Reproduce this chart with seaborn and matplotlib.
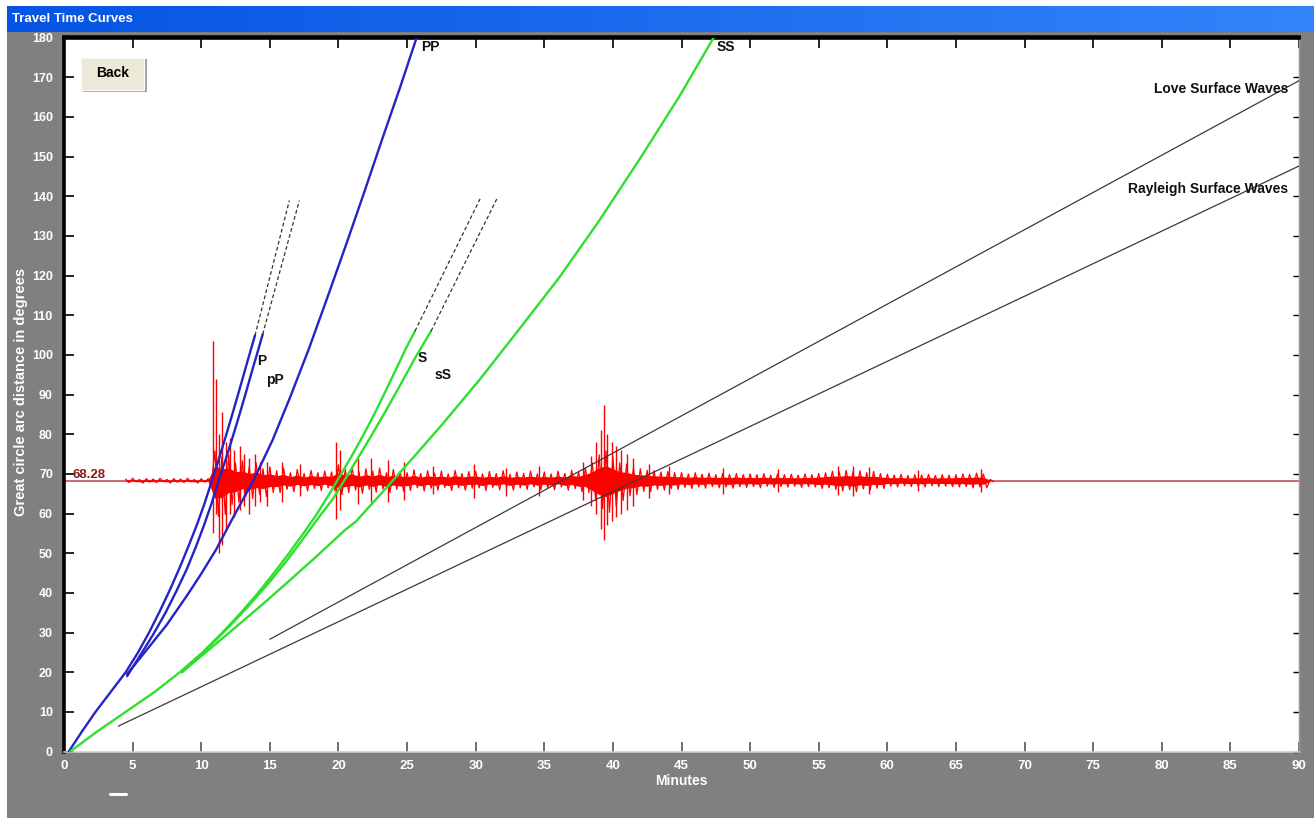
#!/usr/bin/env python3
"""
Travel time curves screen: P / S phase curves, surface waves and a seismogram
"""

import numpy as np
import matplotlib
matplotlib.use("Agg")
import matplotlib.pyplot as plt
import seaborn as sns
from matplotlib.patches import Rectangle
from matplotlib.lines import Line2D

sns.set_style("white")
plt.rcParams['font.family'] = ['Liberation Sans', 'DejaVu Sans']

# =============================================================================
# DATA (minutes, degrees)
# =============================================================================
p_t = [0.35, 1.3, 2.3, 3.4, 4.5, 5.4, 6.2, 7.0, 7.75, 8.45, 9.1, 9.7, 10.25, 10.75,
       11.25, 11.75, 12.25, 12.75, 13.25, 13.6, 13.92]
p_d = [0.0, 5.0, 10.0, 15.0, 20.0, 25.0, 30.0, 35.5, 41.0, 46.5, 52.0, 57.3, 62.6, 68.0,
       73.3, 79.0, 84.8, 90.8, 96.9, 101.1, 104.9]

pp_small_t = [4.6, 5.6, 6.5, 7.4, 8.2, 8.95, 9.6, 10.2, 10.75, 11.25, 11.75, 12.25,
              12.75, 13.25, 13.75, 14.15, 14.48]
pp_small_d = [19.0, 24.5, 29.5, 35.0, 40.5, 46.0, 51.5, 57.0, 62.5, 68.0, 73.3, 78.8,
              84.5, 90.4, 96.5, 101.2, 105.2]

PP_t = [4.6, 6.0, 7.5, 9.0, 10.0, 11.1, 12.4, 13.8, 15.2, 16.5, 17.8, 19.2, 20.6,
        21.9, 23.2, 24.5, 25.7]
PP_d = [19.5, 25.5, 32.0, 39.5, 44.8, 51.0, 59.5, 68.3, 78.5, 89.5, 101.1, 114.5, 128.2,
        141.2, 154.5, 167.5, 180.0]

s_t = [0.45, 2.4, 4.5, 6.6, 8.45, 10.1, 11.55, 12.9, 14.15, 15.3, 16.4, 17.45, 18.45,
       19.35, 20.2, 21.05, 21.85, 22.65, 23.4, 24.15, 24.9, 25.58]
s_d = [0.0, 5.0, 10.0, 15.0, 20.0, 25.0, 30.0, 35.0, 40.0, 45.0, 50.0, 55.0, 60.0,
       65.0, 70.0, 75.0, 80.0, 85.3, 90.6, 96.0, 101.5, 106.0]

ss_small_t = [8.6, 10.3, 11.9, 13.4, 14.8, 16.1, 17.3, 18.45, 19.6, 20.6, 21.6, 22.6,
              23.6, 24.6, 25.6, 26.75]
ss_small_d = [20.0, 25.5, 31.0, 36.5, 42.0, 47.5, 53.0, 58.5, 63.7, 69.3, 75.0, 80.8,
              86.8, 93.0, 99.3, 106.0]

SS_t = [8.6, 10.5, 12.5, 14.5, 16.5, 18.5, 20.5, 21.25, 23.5, 25.5, 27.5, 30.35,
        33.0, 36.05, 39.0, 42.0, 44.8, 47.35]
SS_d = [20.0, 25.5, 31.3, 37.2, 43.3, 49.5, 55.9, 57.9, 66.5, 74.3, 82.2, 94.0,
        105.7, 119.3, 133.8, 149.6, 164.9, 180.0]

# dashed continuations of P, pP, S, sS
p_ext_t, p_ext_d = [13.92, 16.42], [104.9, 138.9]
pps_ext_t, pps_ext_d = [14.48, 17.15], [105.2, 138.9]
s_ext_t, s_ext_d = [25.58, 30.32], [106.0, 139.3]
sss_ext_t, sss_ext_d = [26.75, 31.54], [106.0, 139.3]

# surface waves
love_t, love_d = [15.0, 90.0], [28.3, 169.1]
rayleigh_t, rayleigh_d = [3.96, 90.0], [6.4, 147.6]

# seismogram at 68.28 degrees: max / min excursion per half-minute bin
station_dist = 68.28
seis_start, seis_step = 4.5, 0.5
seis_up = [0.4, 0.6, 0.3, 0.5, 0.4, 0.6, 0.3, 0.5, 0.4, 0.6, 0.3, 0.5, 0.5,
           7.5, 6.0, 6.5, 4.5, 5.0, 3.5, 4.5, 3.0, 3.5,
           2.5, 3.2, 2.0, 2.8, 1.8, 2.6, 2.0, 2.4, 2.2,
           4.0, 2.8, 3.4, 2.2, 3.0, 2.4, 3.2, 2.0, 2.8, 2.3,
           2.0, 2.7, 1.8, 2.5, 1.9, 2.4, 1.7, 2.6, 1.8, 2.3,
           2.4, 1.7, 2.3, 1.8, 2.5, 1.6, 2.2, 1.8, 2.4, 1.7,
           2.2, 1.7, 2.4, 1.8, 2.6, 2.2, 3.2, 4.5, 6.5, 7.5,
           6.0, 4.5, 4.2, 3.2, 3.0, 2.6, 2.5, 2.2, 2.3, 2.0,
           2.0, 1.7, 2.0, 1.6, 1.9, 1.5, 1.8, 1.6, 1.8, 1.5,
           1.7, 1.5, 1.8, 1.4, 1.7, 1.5, 1.6, 1.4, 1.7, 1.5,
           1.8, 2.0, 2.4, 2.2, 2.6, 2.3, 2.5, 2.0, 2.3, 1.8,
           1.6, 1.4, 1.6, 1.3, 1.5, 1.4, 1.6, 1.3, 1.5, 1.4,
           1.5, 1.7, 1.6, 1.9, 1.7, 0.3]
seis_dn = [0.5, 0.3, 0.6, 0.4, 0.5, 0.3, 0.6, 0.4, 0.5, 0.3, 0.6, 0.4, 0.4,
           9.0, 8.5, 6.0, 5.5, 4.0, 4.5, 3.5, 4.0, 3.0,
           3.0, 2.2, 2.8, 1.9, 2.6, 2.0, 2.5, 1.8, 2.6,
           3.5, 3.0, 2.4, 3.2, 2.2, 2.9, 2.1, 3.0, 2.2, 2.7,
           2.5, 1.8, 2.6, 1.9, 2.4, 1.7, 2.5, 1.8, 2.4, 1.9,
           1.8, 2.5, 1.7, 2.3, 1.6, 2.4, 1.8, 2.2, 1.6, 2.3,
           1.8, 2.3, 1.6, 2.4, 2.0, 2.8, 3.0, 5.0, 7.0, 8.0,
           6.5, 5.0, 3.8, 3.5, 2.7, 2.8, 2.2, 2.4, 2.0, 2.2,
           1.7, 2.0, 1.6, 1.9, 1.5, 1.8, 1.6, 1.9, 1.5, 1.7,
           1.5, 1.8, 1.4, 1.7, 1.5, 1.6, 1.4, 1.7, 1.5, 1.6,
           2.0, 1.8, 2.2, 2.6, 2.3, 2.8, 2.1, 2.4, 1.9, 2.0,
           1.4, 1.6, 1.3, 1.5, 1.4, 1.6, 1.3, 1.5, 1.4, 1.5,
           1.6, 1.5, 1.8, 1.6, 1.8, 0.3]
# share of each swing that the dense core of the trace fills
core_share = 0.5

# isolated large swings of the trace
spike_t = [10.85, 11.05, 11.3, 11.55, 11.8, 12.1, 12.4, 12.8, 13.1, 13.5, 13.9, 14.3, 14.8,
           15.9, 17.2, 19.8, 20.1, 21.4, 22.4, 23.6, 24.8, 26.9, 29.9, 32.2, 34.6, 37.8,
           38.4, 38.8, 39.1, 39.35, 39.6, 39.9, 40.2, 40.6, 41.0, 41.5, 42.6, 44.1, 48.0,
           52.0, 56.4, 57.5, 58.7, 62.2, 66.8]
spike_hi = [103.6, 94.0, 80.0, 85.7, 78.0, 79.0, 76.0, 77.0, 75.0, 74.0, 75.0, 73.0, 73.0,
            73.0, 72.5, 78.0, 76.0, 74.0, 74.0, 73.5, 73.0, 72.0, 72.5, 71.5, 72.0, 73.0,
            74.5, 78.0, 81.0, 87.3, 80.0, 78.0, 77.0, 76.0, 75.0, 74.0, 72.5, 72.0, 71.5,
            71.3, 72.0, 72.0, 71.8, 71.0, 71.3]
spike_lo = [55.0, 60.0, 50.0, 52.0, 56.0, 60.0, 59.0, 61.0, 62.0, 60.0, 62.0, 63.0, 62.0,
            63.0, 64.5, 58.6, 61.0, 62.5, 63.0, 63.0, 63.5, 65.0, 64.0, 64.5, 64.5, 63.5,
            62.0, 60.0, 56.0, 53.3, 57.0, 58.0, 59.0, 60.0, 61.0, 62.0, 64.0, 65.0, 65.0,
            65.3, 64.6, 64.5, 64.8, 65.6, 65.5]

x_ticks = list(range(0, 91, 5))
y_ticks = list(range(0, 181, 10))

# =============================================================================
# FIGURE / WINDOW CHROME
# =============================================================================
W, H = 1314, 818
fig = plt.figure(figsize=(W / 100, H / 100), dpi=100, facecolor='#808080')

fig.patches.append(Rectangle((0, 0), 7 / W, 1, transform=fig.transFigure,
                             facecolor='white', edgecolor='none', zorder=-2))
fig.patches.append(Rectangle((0, 1 - 6 / H), 1, 6 / H, transform=fig.transFigure,
                             facecolor='white', edgecolor='none', zorder=-2))

# title bar
tb = fig.add_axes([7 / W, 1 - 32 / H, 1 - 7 / W, 26 / H])
grad = np.linspace(0, 1, 256)
c0, c1 = np.array([0.02, 0.33, 0.89]), np.array([0.20, 0.52, 0.98])
tb.imshow((c0[None, :] + (c1 - c0)[None, :] * grad[:, None])[None, :, :],
          aspect='auto', extent=[0, 1, 0, 1])
tb.set_axis_off()
tb.text(0.004, 0.5, 'Travel Time Curves', color='white', fontsize=9.5,
        fontweight='bold', va='center', ha='left')

# =============================================================================
# MAIN PLOT
# =============================================================================
ax = fig.add_axes([64 / W, 1 - 751.5 / H, 1235 / W, 714 / H])
ax.set_facecolor('white')

# seismogram: dense core plus min/max zigzag per bin
ax.axhline(station_dist, color='#c0505f', lw=1.2, zorder=1)
up, dn = np.array(seis_up), np.array(seis_dn)
bin_t = seis_start + seis_step * np.arange(len(up))
ax.fill_between(bin_t, station_dist - core_share * dn, station_dist + core_share * up,
                color='#ff0000', lw=0, zorder=2)
zig_t = np.column_stack([bin_t, bin_t + seis_step / 2]).ravel()
zig_d = np.column_stack([station_dist + up, station_dist - dn]).ravel()
ax.plot(zig_t, zig_d, color='#ff0000', lw=0.9, zorder=2)
ax.vlines(spike_t, spike_lo, spike_hi, color='#ff0000', lw=1.0, zorder=2)

# body-wave travel time curves
blue, green = '#2424c4', '#2ee02e'
for tt, dd, col in [(p_t, p_d, blue), (pp_small_t, pp_small_d, blue), (PP_t, PP_d, blue),
                    (s_t, s_d, green), (ss_small_t, ss_small_d, green), (SS_t, SS_d, green)]:
    sns.lineplot(x=tt, y=dd, ax=ax, color=col, lw=1.7, sort=False, estimator=None, zorder=3)

for tt, dd in [(p_ext_t, p_ext_d), (pps_ext_t, pps_ext_d), (s_ext_t, s_ext_d), (sss_ext_t, sss_ext_d)]:
    ax.plot(tt, dd, color='#333333', lw=0.9, ls=(0, (3, 2)), zorder=3)

# surface waves
sns.lineplot(x=love_t, y=love_d, ax=ax, color='#3a3a3a', lw=0.9, sort=False, estimator=None, zorder=3)
sns.lineplot(x=rayleigh_t, y=rayleigh_d, ax=ax, color='#3a3a3a', lw=0.9, sort=False, estimator=None, zorder=3)

# phase labels
lab = dict(fontsize=10, fontweight='bold', color='#111111', zorder=5)
ax.text(26.7, 177.5, 'PP', ha='center', va='center', **lab)
ax.text(48.2, 177.5, 'SS', ha='center', va='center', **lab)
ax.text(14.4, 98.4, 'P', ha='center', va='center', **lab)
ax.text(15.4, 93.6, 'pP', ha='center', va='center', **lab)
ax.text(26.1, 99.3, 'S', ha='center', va='center', **lab)
ax.text(27.6, 94.8, 'sS', ha='center', va='center', **lab)
ax.text(89.2, 167.1, 'Love Surface Waves', ha='right', va='center', **lab)
ax.text(89.2, 141.7, 'Rayleigh Surface Waves', ha='right', va='center', **lab)
ax.text(0.6, 69.7, '68.28', ha='left', va='center', fontsize=9.5,
        fontweight='bold', color='#8b1a1a', zorder=5)

ax.set_xlim(0, 90)
ax.set_ylim(0, 180)
ax.set_xticks(x_ticks)
ax.set_yticks(y_ticks)
ax.set_xlabel('')
ax.set_ylabel('')

for side in ['left', 'top']:
    ax.spines[side].set_color('black')
    ax.spines[side].set_linewidth(2.6)
ax.spines['bottom'].set_color('#cfcfcf')
ax.spines['bottom'].set_linewidth(1.2)
ax.spines['right'].set_color('#9a9a9a')
ax.spines['right'].set_linewidth(1)

ax.tick_params(axis='x', which='major', direction='in', length=7, width=1.2,
               color='#555555', pad=6, labelcolor='white', labelsize=9.5,
               bottom=True, top=False)
ax.tick_params(axis='y', which='major', direction='in', length=7, width=1.2,
               color='black', pad=8, labelcolor='white', labelsize=9,
               left=True, right=False)
for lbl in ax.get_xticklabels() + ax.get_yticklabels():
    lbl.set_fontweight('bold')

top = ax.secondary_xaxis('top')
top.set_xticks(x_ticks)
top.tick_params(direction='in', length=8, width=1.2, color='black', labeltop=False)
top.spines['top'].set_color('black')
top.spines['top'].set_linewidth(2.6)

right = ax.secondary_yaxis('right')
right.set_yticks(y_ticks)
right.tick_params(direction='in', length=4, width=1, color='black', labelright=False)
right.spines['right'].set_color('#9a9a9a')

# axis titles
fig.text(681 / W, 1 - 781 / H, 'Minutes', color='white', fontsize=10,
         fontweight='bold', ha='center', va='center')
fig.text(21 / W, 1 - 392 / H, 'Great circle arc distance in degrees', color='white',
         fontsize=10.5, fontweight='bold', ha='center', va='center', rotation=90)

# small white mark under the axis
fig.lines.append(Line2D([110 / W, 126 / W], [1 - 794 / H, 1 - 794 / H],
                        transform=fig.transFigure, color='white', lw=2.2))

# Back button
fig.patches.append(Rectangle((82.5 / W, 1 - 91.5 / H), 64 / W, 33 / H, transform=fig.transFigure,
                             facecolor='#9c9c9c', edgecolor='none', zorder=4))
fig.patches.append(Rectangle((81 / W, 1 - 90 / H), 63 / W, 32 / H, transform=fig.transFigure,
                             facecolor='#ece9d8', edgecolor='#f8f8f4', lw=1, zorder=5))
fig.text(113 / W, 1 - 73 / H, 'Back', color='black', fontsize=10,
         fontweight='bold', ha='center', va='center', zorder=6)

plt.savefig('out.png', dpi=100, facecolor=fig.get_facecolor())
